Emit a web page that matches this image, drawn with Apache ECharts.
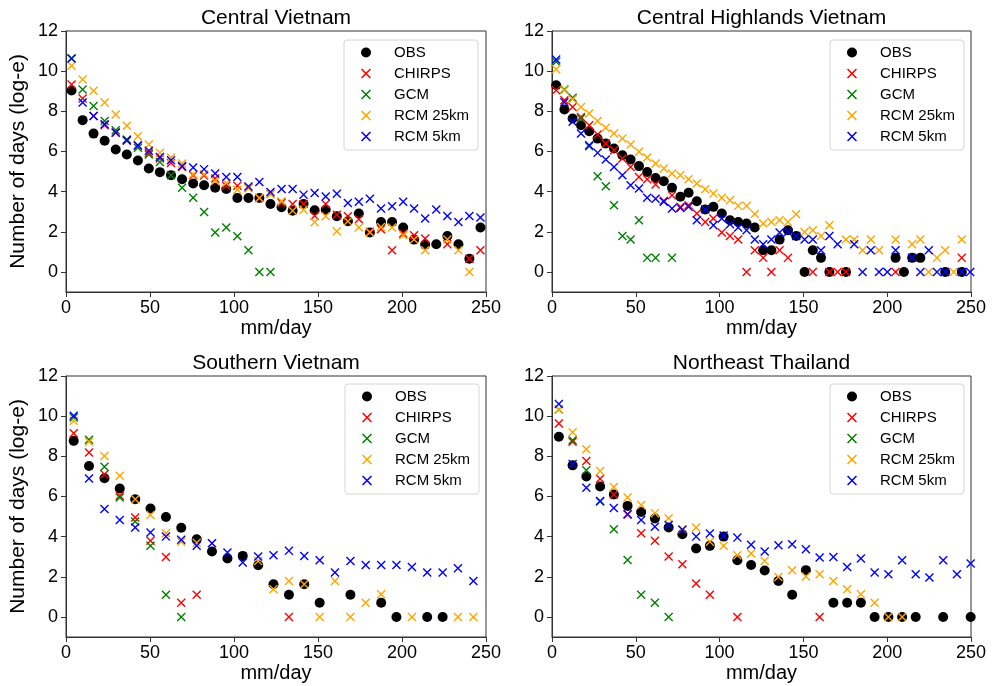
<!DOCTYPE html>
<html><head><meta charset="utf-8">
<script src="https://cdn.jsdelivr.net/npm/echarts@6/dist/echarts.min.js"></script>
<style>html,body{margin:0;padding:0;background:#fff}#c{width:992px;height:686px}</style>
</head><body><div id="c"></div>
<script>
// ---- text ----
const panelTitles = ['Central Vietnam', 'Central Highlands Vietnam', 'Southern Vietnam', 'Northeast Thailand'];
const seriesNames = ['OBS', 'CHIRPS', 'GCM', 'RCM 25km', 'RCM 5km'];
const xTicks = [0, 50, 100, 150, 200, 250];
const yTicks = [0, 2, 4, 6, 8, 10, 12];
const xName = 'mm/day';
const yName = 'Number of days (log-e)';

// ---- bin centres (mm/day) ----
const binsCV = [3.3, 9.9, 16.4, 23.0, 29.6, 36.2, 42.8, 49.3, 55.9, 62.5, 69.1, 75.7, 82.2, 88.8, 95.4, 102.0, 108.6, 115.1, 121.7, 128.3, 134.9, 141.4, 148.0, 154.6, 161.2, 167.8, 174.3, 180.9, 187.5, 194.1, 200.7, 207.2, 213.8, 220.4, 227.0, 233.6, 240.1, 246.7];
const binsCH = [2.5, 7.4, 12.3, 17.3, 22.2, 27.2, 32.1, 37.0, 42.0, 46.9, 51.9, 56.8, 61.8, 66.7, 71.6, 76.6, 81.5, 86.4, 91.4, 96.3, 101.3, 106.2, 111.1, 116.1, 121.0, 126.0, 130.9, 135.8, 140.8, 145.7, 150.7, 155.6, 160.5, 165.5, 170.4, 175.4, 180.3, 185.3, 190.2, 195.1, 200.1, 205.0, 210.0, 214.9, 219.8, 224.8, 229.7, 234.6, 239.6, 244.5, 249.5];
const binsSV = [4.6, 13.7, 22.9, 32.0, 41.2, 50.3, 59.5, 68.6, 77.8, 86.9, 96.1, 105.2, 114.4, 123.5, 132.7, 141.8, 151.0, 160.1, 169.3, 178.4, 187.6, 196.7, 205.9, 215.0, 224.2, 233.3, 242.5];
const binsNT = [4.1, 12.3, 20.5, 28.7, 36.9, 45.1, 53.2, 61.4, 69.6, 77.8, 86.0, 94.2, 102.4, 110.6, 118.8, 126.9, 135.1, 143.3, 151.5, 159.7, 167.9, 176.1, 184.3, 192.5, 200.7, 208.9, 217.0, 225.2, 233.4, 241.6, 249.8];

// ---- Central Vietnam ----
const cvOBS = [9.04, 7.56, 6.89, 6.53, 6.10, 5.85, 5.55, 5.15, 4.97, 4.82, 4.62, 4.40, 4.32, 4.19, 4.13, 3.68, 3.68, 3.68, 3.38, 3.22, 3.05, 3.38, 3.07, 3.10, 2.77, 2.52, 2.91, 1.96, 2.49, 2.49, 2.21, 1.61, 1.36, 1.38, 1.79, 1.38, 0.66, 2.21];
const cvCHIRPS = [9.34, 8.64, 7.77, 7.31, 6.93, 6.53, 6.28, 5.93, 5.65, 5.43, 5.23, 4.82, 4.80, 4.65, 4.29, 4.29, 4.18, 3.68, 3.88, 3.45, 3.38, 3.38, 2.80, 3.38, 2.85, 2.77, 2.62, 2.00, 2.13, 1.08, 1.91, 1.83, 1.66, null, 1.38, null, 0.66, 1.08];
const cvGCM = [10.63, 9.09, 8.26, 7.52, 7.06, 6.60, 6.18, 5.85, 5.48, 4.82, 4.19, 3.69, 2.99, 1.96, 2.21, 1.78, 1.08, 0, 0, null, null, null, null, null, null, null, null, null, null, null, null, null, null, null, null, null, null, null];
const cvRCM25 = [10.27, 9.58, 9.02, 8.44, 7.84, 7.28, 6.76, 6.35, 5.93, 5.70, 5.40, 4.87, 4.87, 4.53, 4.43, 4.09, 4.18, 3.68, 3.88, 3.52, 3.05, 3.10, 2.47, 2.77, 2.03, 2.52, 2.21, 1.96, 2.24, 2.21, 1.83, 1.61, 1.08, null, 1.61, 1.08, 0, null];
const cvRCM5 = [10.63, 8.44, 7.77, 7.36, 6.94, 6.56, 6.31, 6.03, 5.73, 5.56, 5.27, 5.20, 5.12, 4.90, 4.73, 4.73, 4.26, 4.48, 3.98, 4.13, 4.13, 3.85, 3.93, 3.76, 3.89, 3.43, 3.49, 3.65, 3.16, 3.27, 3.49, 3.16, 2.66, 3.11, 2.79, 2.49, 2.79, 2.71];

// ---- Central Highlands Vietnam ----
const chOBS = [9.30, 8.09, 7.64, 7.31, 7.01, 6.64, 6.40, 6.15, 5.81, 5.60, 5.27, 4.98, 4.68, 4.52, 4.19, 3.74, 3.94, 3.52, 3.11, 3.24, 2.91, 2.57, 2.49, 2.41, 2.21, 1.08, 1.08, 1.61, 2.08, 1.79, 0, 1.08, 0.70, 0, null, 0, null, null, null, null, null, 0.70, 0, 0.70, 0.70, null, null, 0, null, 0, null];
const chCHIRPS = [9.05, 8.55, 8.22, 7.72, 7.31, 6.84, 6.40, 6.06, 5.65, 5.23, 4.73, 4.62, 4.35, 3.54, 3.82, 3.24, 3.32, 2.91, 2.49, 2.66, 1.96, 1.79, 1.61, 0, 1.08, 0.70, 0, 1.08, 0.70, null, null, 0, null, 0, 0, 0, null, null, null, null, null, 0, null, null, null, null, null, null, null, 0.70, null];
const chGCM = [10.47, 9.09, 8.67, 7.64, 6.26, 4.77, 4.27, 3.32, 1.79, 1.61, 2.57, 0.70, 0.70, null, 0.70, null, null, null, null, null, null, null, null, null, null, null, null, null, null, null, null, null, null, null, null, null, null, null, null, null, null, null, null, null, null, null, null, null, null, null, null];
const chRCM25 = [10.10, 9.05, 8.60, 8.22, 7.89, 7.52, 7.18, 6.89, 6.64, 6.35, 5.98, 5.70, 5.40, 5.15, 4.90, 4.82, 4.62, 4.40, 4.12, 3.90, 3.70, 3.57, 3.29, 3.29, 2.88, 2.41, 2.49, 2.57, 2.49, 2.87, 1.99, 2.08, 1.79, 2.33, null, 1.61, 1.61, 1.08, 1.61, 1.08, null, 1.61, null, 1.38, 1.61, 0, 0.70, 1.08, 0, 1.61, null];
const chRCM5 = [10.58, 8.45, 7.48, 6.89, 6.31, 5.93, 5.60, 5.23, 4.82, 4.32, 4.15, 3.70, 3.65, 3.49, 3.16, 3.19, 3.24, 2.57, 3.12, 2.33, 2.66, 2.38, 2.21, 2.08, 1.61, 1.38, 1.61, 1.96, 1.99, 1.79, 1.61, 1.61, 1.08, 1.79, 1.38, null, 1.38, 0, 1.08, 0, 0, 1.08, null, 0.70, 0, 1.08, 0, 0, null, 0, 0];

// ---- Southern Vietnam ----
const svOBS = [8.77, 7.52, 6.91, 6.40, 5.86, 5.40, 4.98, 4.44, 3.87, 3.26, 2.91, 3.04, 2.57, 1.63, 1.10, 1.63, 0.71, null, 1.10, null, 0.71, 0, null, 0, 0, null, null];
const svCHIRPS = [9.15, 8.19, 7.11, 6.03, 4.95, 3.79, 2.99, 0.71, 1.10, null, null, null, null, null, 0, null, null, null, null, null, null, null, null, null, null, null, null];
const svGCM = [9.93, 8.82, 7.48, 5.95, 4.75, 3.54, 1.10, 0, null, null, null, null, null, null, null, null, null, null, null, null, null, null, null, null, null, null, null];
const svRCM25 = [9.77, 8.72, 8.02, 7.03, 5.86, 5.08, 4.17, 3.75, 3.70, 3.67, null, null, 2.79, 1.38, 1.79, 1.63, 0, 1.79, 0, 0.71, 1.13, null, 0, null, null, 0, 0];
const svRCM5 = [10.02, 6.89, 5.37, 4.83, 4.45, 4.20, 4.00, 3.84, 3.54, 3.67, 3.21, 2.71, 3.01, 3.07, 3.29, 3.04, 2.82, 2.21, 2.79, 2.59, 2.59, 2.59, 2.49, 2.21, 2.21, 2.43, 1.79];

// ---- Northeast Thailand ----
const ntOBS = [8.97, 7.55, 7.00, 6.50, 6.10, 5.53, 5.23, 4.90, 4.45, 4.12, 3.41, 3.54, 4.00, 2.82, 2.59, 2.31, 1.79, 1.10, 2.33, null, 0.71, 0.71, 0.71, 0, 0, 0, 0, null, 0, null, 0];
const ntCHIRPS = [9.63, 8.72, 7.77, 6.88, 6.10, 5.10, 4.17, 3.79, 3.01, 2.62, 1.66, 1.10, null, 0, null, null, null, null, null, 0, null, null, null, null, null, null, null, null, null, null, null];
const ntGCM = [10.33, 8.80, 7.30, 5.75, 4.37, 2.84, 1.10, 0.71, 0, null, null, null, null, null, null, null, null, null, null, null, null, null, null, null, null, null, null, null, null, null, null];
const ntRCM25 = [10.33, 9.20, 8.35, 7.27, 6.47, 5.95, 5.58, 5.17, 4.92, 4.37, 4.45, 3.75, 3.54, 3.07, 3.16, 2.79, 1.99, 2.33, 2.01, 2.13, 1.79, 1.38, 1.13, 0.71, 0, 0, null, null, null, null, null];
const ntRCM5 = [10.60, 7.62, 6.43, 5.77, 5.42, 5.12, 4.83, 4.49, 4.58, 4.34, 4.00, 4.15, 4.05, 3.95, 3.59, 3.26, 3.57, 3.62, 3.37, 2.96, 2.99, 2.49, 2.91, 2.21, 2.13, 2.82, 2.13, 1.96, 2.82, 2.13, 2.66];

const panels = [
  {bins: binsCV, vals: [cvOBS, cvCHIRPS, cvGCM, cvRCM25, cvRCM5]},
  {bins: binsCH, vals: [chOBS, chCHIRPS, chGCM, chRCM25, chRCM5]},
  {bins: binsSV, vals: [svOBS, svCHIRPS, svGCM, svRCM25, svRCM5]},
  {bins: binsNT, vals: [ntOBS, ntCHIRPS, ntGCM, ntRCM25, ntRCM5]}
];

// ---- styling ----
const FONT = '"Liberation Sans", Arial, Helvetica, sans-serif';
const colors = ['#000000', '#ff0000', '#008000', '#ffa500', '#0000ff'];
const CROSS = 'path://M0,1.1L1.1,0L10,8.9L8.9,10ZM8.9,0L10,1.1L1.1,10L0,8.9Z';
const symbols = ['circle', CROSS, CROSS, CROSS, CROSS];
const sizes = [10, 9, 9, 9, 9];
const gridPos = [
  {left: 66, top: 31, width: 420, height: 261},
  {left: 552, top: 31, width: 419, height: 261},
  {left: 66, top: 376, width: 420, height: 261},
  {left: 552, top: 376, width: 419, height: 261}
];
const legendPos = [[344, 40], [830, 40], [345, 384], [830, 384]];
const AX = '#333';

const grid = gridPos.map(g => Object.assign({show: true, borderColor: AX, borderWidth: 1, backgroundColor: 'transparent', containLabel: false}, g));

const xAxis = gridPos.map((g, i) => ({
  type: 'value', gridIndex: i, min: 0, max: 250, interval: 50,
  name: xName, nameLocation: 'middle', nameGap: 26,
  nameTextStyle: {fontFamily: FONT, fontSize: 20, color: '#000'},
  axisLine: {show: true, onZero: false, lineStyle: {color: AX, width: 1}},
  axisTick: {show: true, inside: false, length: 5, lineStyle: {color: AX}},
  axisLabel: {fontFamily: FONT, fontSize: 18, color: '#000', margin: 7},
  splitLine: {show: false}
}));

const yAxis = gridPos.map((g, i) => ({
  type: 'value', gridIndex: i, min: -1, max: 12,
  name: (i % 2 === 0) ? yName : '', nameLocation: 'middle', nameGap: 37, nameRotate: 90,
  nameTextStyle: {fontFamily: FONT, fontSize: 21, color: '#000'},
  axisLine: {show: true, onZero: false, lineStyle: {color: AX, width: 1}},
  axisTick: {show: true, inside: false, length: 5, lineStyle: {color: AX}, customValues: yTicks},
  axisLabel: {fontFamily: FONT, fontSize: 18, color: '#000', margin: 8, customValues: yTicks},
  splitLine: {show: false}
}));

const title = gridPos.map((g, i) => ({
  text: panelTitles[i], left: g.left + g.width / 2, top: g.top - 23, textAlign: 'center',
  padding: 0,
  textStyle: {fontFamily: FONT, fontSize: 21, fontWeight: 'normal', color: '#000'}
}));

const legend = legendPos.map(p => ({
  left: p[0], top: p[1], orient: 'vertical',
  itemWidth: 30, itemHeight: 10, itemGap: 6,
  padding: [5, 9, 6, 17],
  backgroundColor: 'rgba(255,255,255,0.85)', borderColor: '#d6d6d6', borderWidth: 1, borderRadius: 3,
  selectedMode: false,
  textStyle: {fontFamily: FONT, fontSize: 15, color: '#000', lineHeight: 15, padding: [0, 0, 0, 8]},
  data: seriesNames
}));

const series = [];
panels.forEach((p, pi) => {
  p.vals.forEach((vals, si) => {
    const data = [];
    vals.forEach((v, k) => { if (v !== null) data.push([p.bins[k], v]); });
    series.push({
      type: 'scatter', name: seriesNames[si], xAxisIndex: pi, yAxisIndex: pi,
      symbol: symbols[si], symbolSize: sizes[si],
      itemStyle: {color: colors[si], opacity: 1, borderWidth: 0},
      z: 2 + si, data: data, silent: true
    });
  });
});

const chart = echarts.init(document.getElementById('c'), null, {renderer: 'canvas'});
chart.setOption({
  animation: false,
  backgroundColor: '#fff',
  title: title, grid: grid, xAxis: xAxis, yAxis: yAxis, legend: legend, series: series
});
</script></body></html>
